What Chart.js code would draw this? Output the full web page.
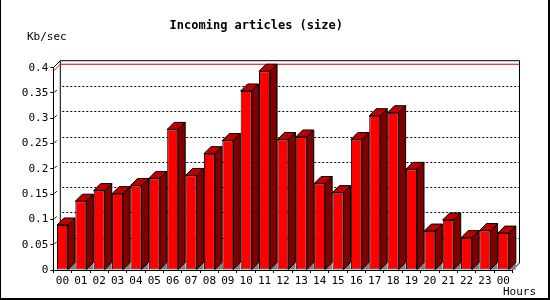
<!DOCTYPE html>
<html>
<head>
<meta charset="utf-8">
<script src="https://cdn.jsdelivr.net/npm/chart.js@4/dist/chart.umd.min.js"></script>
<style>
  body { margin: 0; background: #fff; }
  canvas { display: block; }
</style>
</head>
<body>
<canvas id="sizeChart" width="550" height="300"></canvas>
<script>
// hourly incoming article volume
var hours = ["00", "01", "02", "03", "04", "05", "06", "07", "08", "09", "10", "11",
             "12", "13", "14", "15", "16", "17", "18", "19", "20", "21", "22", "23", "00"];
var kbPerSec = [0.089, 0.136, 0.157, 0.151, 0.167, 0.181, 0.278, 0.187, 0.230, 0.256, 0.354, 0.393,
                0.258, 0.263, 0.171, 0.153, 0.258, 0.305, 0.311, 0.199, 0.077, 0.099, 0.064, 0.078, 0.073];
var yTicks = [0, 0.05, 0.1, 0.15, 0.2, 0.25, 0.3, 0.35, 0.4];

var FONT = "'DejaVu Sans Mono', monospace";
var DEPTH = 7;

// back wall, dotted grid and max line, drawn before the bars
var backWall = {
    id: "backWall",
    beforeDatasetsDraw: function (chart) {
        var ctx = chart.ctx, a = chart.chartArea, y = chart.scales.y;
        var bl = a.left + DEPTH, bt = a.top - DEPTH, br = a.right + DEPTH, bb = a.bottom - DEPTH;
        ctx.save();
        ctx.lineWidth = 1;
        ctx.strokeStyle = "#000";
        ctx.setLineDash([2, 2]);
        yTicks.forEach(function (v) {
            if (v === 0 || v === 0.4) return;
            var py = Math.round(y.getPixelForValue(v) - DEPTH) + 0.5;
            ctx.beginPath();
            ctx.moveTo(bl + 2, py);
            ctx.lineTo(br, py);
            ctx.stroke();
        });
        ctx.setLineDash([]);

        // frame of the box
        ctx.beginPath();
        ctx.moveTo(a.left, a.top);
        ctx.lineTo(bl, bt);
        ctx.lineTo(br, bt);
        ctx.lineTo(br, bb);
        ctx.lineTo(a.right, a.bottom);
        ctx.moveTo(bl, bt);
        ctx.lineTo(bl, bb);
        ctx.stroke();

        // max value line
        var my = y.getPixelForValue(Math.max.apply(null, kbPerSec));
        ctx.strokeStyle = "#e00000";
        ctx.beginPath();
        ctx.moveTo(a.left, my);
        ctx.lineTo(bl, my - DEPTH);
        ctx.lineTo(br, my - DEPTH);
        ctx.stroke();
        ctx.restore();
    }
};

// top and side faces of each bar
var bars3d = {
    id: "bars3d",
    afterDatasetsDraw: function (chart) {
        var ctx = chart.ctx;
        var meta = chart.getDatasetMeta(0);
        ctx.save();
        ctx.lineWidth = 1;
        ctx.strokeStyle = "#000";
        meta.data.forEach(function (bar) {
            var p = bar.getProps(["x", "y", "base", "width"], true);
            var l = p.x - p.width / 2, r = p.x + p.width / 2, t = p.y, b = p.base;
            // floor shadow
            ctx.fillStyle = "#808080";
            ctx.beginPath();
            ctx.moveTo(r, b);
            ctx.lineTo(r + DEPTH, b - DEPTH);
            ctx.lineTo(r + DEPTH, b);
            ctx.closePath();
            ctx.fill();
            // top
            ctx.fillStyle = "#c00000";
            ctx.beginPath();
            ctx.moveTo(l, t);
            ctx.lineTo(l + DEPTH, t - DEPTH);
            ctx.lineTo(r + DEPTH, t - DEPTH);
            ctx.lineTo(r, t);
            ctx.closePath();
            ctx.fill();
            ctx.stroke();
            // side
            ctx.fillStyle = "#800000";
            ctx.beginPath();
            ctx.moveTo(r, t);
            ctx.lineTo(r + DEPTH, t - DEPTH);
            ctx.lineTo(r + DEPTH, b - DEPTH);
            ctx.lineTo(r, b);
            ctx.closePath();
            ctx.fill();
            ctx.stroke();
        });
        ctx.restore();
    },
    afterDraw: function (chart) {
        var ctx = chart.ctx, a = chart.chartArea, y = chart.scales.y;
        ctx.save();
        ctx.strokeStyle = "#000";
        ctx.lineWidth = 1;
        // little slashes on the axis
        yTicks.forEach(function (v) {
            if (v === 0 || v === 0.4) return;
            var py = y.getPixelForValue(v);
            ctx.beginPath();
            ctx.moveTo(a.left + 1, py - 0.5);
            ctx.lineTo(a.left + 3.5, py - 3);
            ctx.stroke();
        });
        ctx.fillStyle = "#000";
        ctx.font = "11px " + FONT;
        ctx.textBaseline = "middle";
        ctx.textAlign = "left";
        ctx.fillText("Kb/sec", 27, 37);
        ctx.fillText("Hours", 503, 292);
        // image border
        ctx.fillRect(0, 0, 1, 300);
        ctx.fillRect(548, 0, 2, 300);
        ctx.fillRect(0, 298, 550, 2);
        ctx.restore();
    }
};

var ctx = document.getElementById("sizeChart").getContext("2d");
new Chart(ctx, {
    type: "bar",
    data: {
        labels: hours,
        datasets: [{
            data: kbPerSec,
            backgroundColor: "#ff0000",
            borderColor: "#000",
            borderWidth: 1,
            borderSkipped: false,
            barPercentage: 0.6,
            categoryPercentage: 1
        }]
    },
    options: {
        responsive: false,
        animation: false,
        layout: { padding: { left: 0, right: 37.5, top: 0, bottom: 0 } },
        plugins: {
            legend: { display: false },
            tooltip: { enabled: false },
            title: {
                display: true,
                text: "Incoming articles (size)",
                color: "#000",
                font: { family: FONT, size: 12, weight: "bold" },
                padding: { top: 18.8, bottom: 34.5 }
            }
        },
        scales: {
            x: {
                afterFit: function (s) { s.height = 30; },
                border: { display: true, color: "#000" },
                grid: { drawOnChartArea: false, tickLength: 3, color: "#000" },
                ticks: { color: "#000", font: { family: FONT, size: 11 }, padding: 2, maxRotation: 0, autoSkip: false }
            },
            y: {
                min: 0,
                max: 0.4,
                afterFit: function (s) { s.width = 53.3; },
                border: { display: true, color: "#000" },
                grid: { drawOnChartArea: false, tickLength: 3, color: "#000" },
                ticks: {
                    stepSize: 0.05,
                    color: "#000",
                    padding: 2,
                    font: { family: FONT, size: 11 },
                    callback: function (v) { return String(+v.toFixed(2)); }
                }
            }
        }
    },
    plugins: [backWall, bars3d]
});
</script>
</body>
</html>
